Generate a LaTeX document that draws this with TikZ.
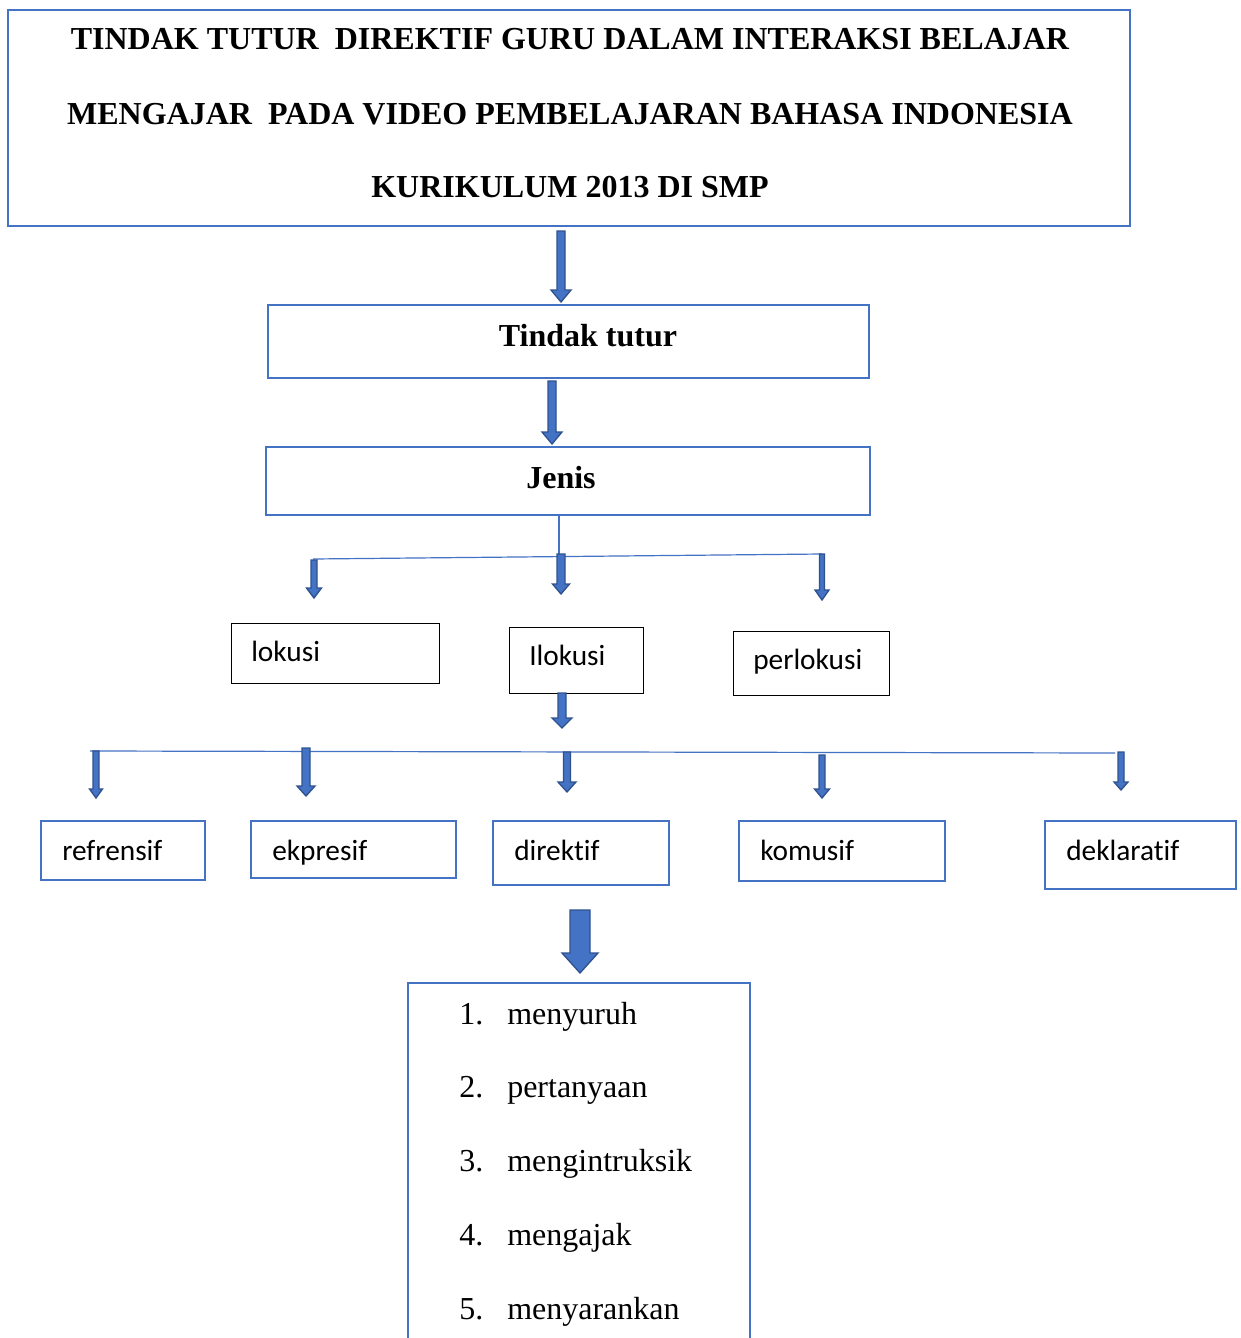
\documentclass[tikz,border=0pt]{standalone}
\usepackage{fontspec}
\setmainfont{Liberation Serif}
\newfontfamily\calibri[Ligatures={NoCommon,NoRequired,NoContextual,NoRare},RawFeature={-calt;-liga;-dlig}]{Carlito}
\definecolor{accblue}{HTML}{4472C4}
\definecolor{accdark}{HTML}{2F528F}
\newcommand\blockarrow[6]{%
  \filldraw[arrowshape] ({#1-#4/2},#2) -- ({#1+#4/2},#2) -- ({#1+#4/2},{#3-#6}) -- ({#1+#5/2},{#3-#6}) -- (#1,#3) -- ({#1-#5/2},{#3-#6}) -- ({#1-#4/2},{#3-#6}) -- cycle;}
\tikzset{
  arrowshape/.style={fill=accblue, draw=accdark, line width=1pt, line join=miter},
  bluebox/.style={draw=accblue, line width=1.5pt},
  blackbox/.style={draw=black, line width=0.75pt},
  thinline/.style={draw=accblue, line width=0.9pt},
  serifbig/.style={font=\fontsize{24}{28}\selectfont, inner sep=0pt},
  seriftitle/.style={font=\fontsize{24}{28}\selectfont\bfseries, inner sep=0pt},
  sanslbl/.style={font=\calibri\fontsize{22}{26}\selectfont, inner sep=0pt, anchor=base west},
}
\begin{document}
\begin{tikzpicture}[x=0.75pt, y=-0.75pt]
\useasboundingbox (0,0) rectangle (1241,1338);
\fill[white] (0,0) rectangle (1241,1338);
% title
\draw[bluebox] (8,10) rectangle (1130,226);
\node[seriftitle, anchor=base] (t1) at (570,50) {TINDAK TUTUR\ \ DIREKTIF GURU DALAM INTERAKSI BELAJAR};
\node[seriftitle, anchor=base] (t2) at (570,124) {MENGAJAR\ \ PADA VIDEO PEMBELAJARAN BAHASA INDONESIA};
\node[seriftitle, anchor=base] (t3) at (570,197) {KURIKULUM 2013 DI SMP};
\blockarrow{561}{231}{302}{8}{20}{12}
% Tindak tutur
\draw[bluebox] (268,305) rectangle (869,378);
\node[seriftitle, anchor=base] (tt) at (588,346) {Tindak tutur};
\blockarrow{552}{381}{444}{8}{20}{12}
% Jenis
\draw[bluebox] (266,447) rectangle (870,515);
\node[seriftitle, anchor=base] (jenis) at (561,488) {Jenis};
\coordinate (jb) at (559,515);
\coordinate (jm) at (559,556);
\draw[thinline] (jb) -- (jm);
\coordinate (hl) at (313,559);
\coordinate (hr) at (822,554);
\draw[thinline] (hl) -- (hr);
\blockarrow{314}{560}{598}{6}{15}{10}
\blockarrow{561}{554}{594}{8}{17}{10}
\blockarrow{822}{554}{600}{5}{14}{10}
% level 3 boxes
\draw[blackbox] (231,623) rectangle (439,683);
\node[sanslbl] (lok) at (251,661) {lokusi};
\draw[blackbox] (509,627) rectangle (643,693);
\node[sanslbl] (ilok) at (529,665) {Ilokusi};
\draw[blackbox] (733,631) rectangle (889,695);
\node[sanslbl] (perl) at (753,669) {perlokusi};
\blockarrow{562}{693}{728}{8}{20}{10}
% second horizontal line
\coordinate (h2l) at (90,751);
\coordinate (h2r) at (1115,753);
\draw[thinline] (h2l) -- (h2r);
\blockarrow{96}{751}{798}{6}{13}{9}
\blockarrow{306}{748}{796}{8}{18}{10}
\blockarrow{567}{752}{792}{7}{18}{10}
\blockarrow{822}{755}{798}{6}{15}{9}
\blockarrow{1121}{752}{790}{6}{14}{8}
% level 4 boxes
\draw[bluebox] (41,821) rectangle (205,880);
\node[sanslbl] (ref) at (62,860) {refrensif};
\draw[bluebox] (251,821) rectangle (456,878);
\node[sanslbl] (eks) at (272,860) {ekpresif};
\draw[bluebox] (493,821) rectangle (669,885);
\node[sanslbl] (dir) at (514,860) {direkt\kern0pt if};
\draw[bluebox] (739,821) rectangle (945,881);
\node[sanslbl] (kom) at (760,860) {komusif};
\draw[bluebox] (1045,821) rectangle (1236,889);
\node[sanslbl] (dek) at (1066,860) {deklarat\kern0pt if};
\blockarrow{580}{910}{973}{20}{36}{20}
% list box
\draw[bluebox] (408,1340) -- (408,983) -- (750,983) -- (750,1340);
\foreach \i/\w [count=\k] in {1/menyuruh,2/pertanyaan,3/mengintruksik,4/mengajak,5/menyarankan}{
  \pgfmathsetmacro\yy{1024+(\k-1)*73.8}
  \node[serifbig, anchor=base west] (n\k) at (459,\yy) {\i.};
  \node[serifbig, anchor=base west] (w\k) at (507,\yy) {\w};
}
\end{tikzpicture}
\end{document}
